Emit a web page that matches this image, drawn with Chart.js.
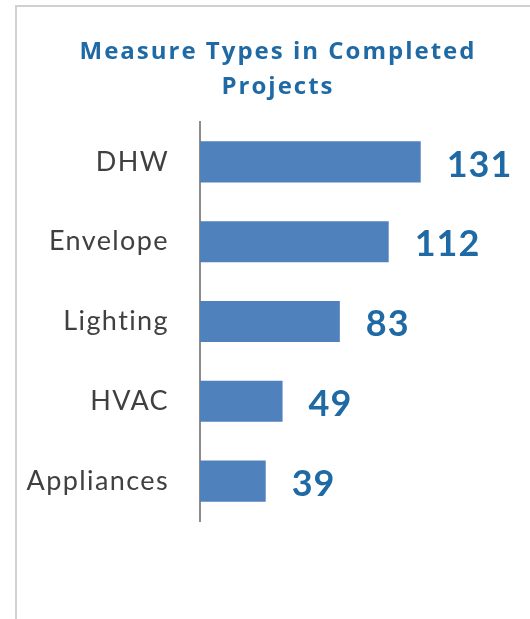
<!DOCTYPE html>
<html><head><meta charset="utf-8">
<script src="https://cdn.jsdelivr.net/npm/chart.js@4"></script>
<style>html,body{margin:0;padding:0;background:#fff}#w{width:530px;height:619px;position:relative}</style>
</head><body><div id="w"><canvas id="c"></canvas></div>
<script>
const categories = ["DHW", "Envelope", "Lighting", "HVAC", "Appliances"];
const counts = [131, 112, 83, 49, 39];
const titleLines = ["Measure Types in Completed", "Projects"];

const frame = {
  id: 'frame',
  beforeDraw(chart) {
    const ctx = chart.ctx;
    ctx.save();
    ctx.strokeStyle = '#d0d0d0';
    ctx.lineWidth = 2;
    ctx.beginPath();
    ctx.moveTo(16, 619);
    ctx.lineTo(16, 6);
    ctx.lineTo(530, 6);
    ctx.stroke();
    ctx.restore();
    ctx.letterSpacing = '1.4px';
  }
};
const chartTitle = {
  id: 'chartTitle',
  afterDraw(chart) {
    const ctx = chart.ctx;
    ctx.save();
    ctx.letterSpacing = '2px';
    ctx.font = 'bold 24px "Open Sans", Lato, sans-serif';
    ctx.fillStyle = '#1F6AA5';
    ctx.textAlign = 'center';
    ctx.textBaseline = 'middle';
    titleLines.forEach((t, i) => ctx.fillText(t, 278, 52 + i * 35));
    ctx.restore();
  }
};
const valueLabels = {
  id: 'valueLabels',
  afterDatasetsDraw(chart) {
    const ctx = chart.ctx;
    const meta = chart.getDatasetMeta(0);
    ctx.save();
    ctx.letterSpacing = '1px';
    ctx.font = 'bold 36px Lato, "Open Sans", sans-serif';
    ctx.fillStyle = '#1F6AA5';
    ctx.textAlign = 'left';
    ctx.textBaseline = 'middle';
    meta.data.forEach((bar, i) => {
      ctx.fillText(String(chart.data.datasets[0].data[i]), bar.x + 26, bar.y + 3);
    });
    ctx.restore();
  }
};

new Chart(document.getElementById('c'), {
  type: 'bar',
  data: {
    labels: categories,
    datasets: [{
      data: counts,
      backgroundColor: '#4F81BD',
      barPercentage: 0.515,
      categoryPercentage: 1.0
    }]
  },
  options: {
    indexAxis: 'y',
    responsive: true,
    maintainAspectRatio: false,
    animation: false,
    layout: { padding: { top: 122, bottom: 98, right: 20, left: 0 } },
    plugins: {
      legend: { display: false },
      tooltip: { enabled: false },
      title: { display: false }
    },
    scales: {
      x: { display: false, min: 0, max: 184 },
      y: {
        afterFit(scale) { scale.width = 200; },
        grid: { drawOnChartArea: false, drawTicks: false },
        border: { display: true, color: '#8c8c8c', width: 2 },
        ticks: {
          color: '#404040',
          padding: 31,
          font: { family: 'Lato, "Open Sans", sans-serif', size: 27 }
        }
      }
    }
  },
  plugins: [frame, chartTitle, valueLabels]
});
</script>
</body></html>
